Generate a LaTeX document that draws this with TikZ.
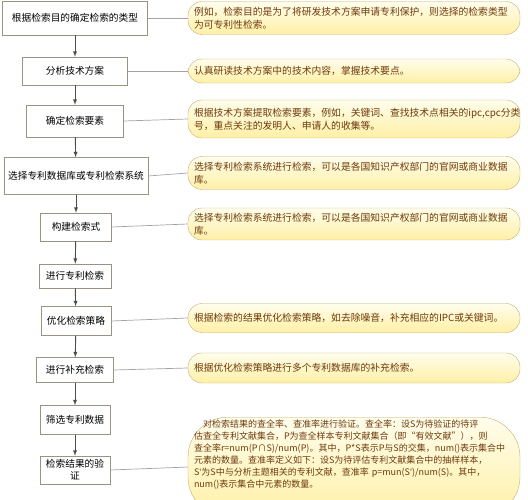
\documentclass[tikz,border=0pt]{standalone}
\usepackage{fontspec}
\setmainfont{Noto Sans CJK SC}
\newfontfamily\latinfont{Noto Sans}
\usepackage{tikz}

\definecolor{boxline}{HTML}{9A9383}
\definecolor{noteline}{HTML}{C2AE6E}
\definecolor{notetop}{HTML}{FFFDEC}
\definecolor{notebottom}{HTML}{FFF0A6}
\definecolor{notetext}{HTML}{6E3A0C}
\definecolor{linkgray}{HTML}{A3A3A3}
\definecolor{arrowgray}{HTML}{4D4D4D}

\tikzset{
  stepbox/.style={draw=boxline, fill=white, align=center, inner sep=1pt,
    font=\fontsize{9.7}{12}\selectfont},
  notebox/.style={draw=noteline, top color=notetop, bottom color=notebottom,
    rounded corners=14pt, text width=320pt, inner xsep=6pt, inner ysep=3pt,
    align=left, text=notetext, font=\fontsize{9.8}{13}\selectfont},
  flow/.style={-latex, draw=arrowgray, line width=0.9pt},
  link/.style={draw=linkgray, line width=0.7pt}
}

\begin{document}
\begin{tikzpicture}[x=1pt, y=-1pt]
    \useasboundingbox (0,0) rectangle (528,500);

    % Steps
    \node[stepbox, minimum width=145pt, minimum height=34pt] (mudi) at (75,18) {根据检索目的确定检索的类型};
    \node[stepbox, minimum width=105pt, minimum height=28pt] (fenxi) at (75,71) {分析技术方案};
    \node[stepbox, minimum width=97pt, minimum height=32pt] (yaosu) at (75,121) {确定检索要素};
    \node[stepbox, minimum width=144pt, minimum height=37pt] (xitong) at (76,176) {选择专利数据库或专利检索系统};
    \node[stepbox, minimum width=71pt, minimum height=28pt] (jianshi) at (76,227) {构建检索式};
    \node[stepbox, minimum width=72pt, minimum height=24pt] (jiansuo) at (75,276) {进行专利检索};
    \node[stepbox, minimum width=70pt, minimum height=29pt] (youhua) at (76,321) {优化检索策略};
    \node[stepbox, minimum width=77pt, minimum height=25pt] (buchong) at (75,370) {进行补充检索};
    \node[stepbox, minimum width=70pt, minimum height=29pt] (shaixuan) at (75,420) {筛选专利数据};
    \node[stepbox, minimum width=70pt, minimum height=28pt] (yanzheng) at (75,470) {检索结果的验\\证};

    % Notes
    \node[notebox, minimum height=33pt] (mudi-tip) at (354,18) {例如，检索目的是为了将研发技术方案申请专利保护，则选择的检索类型\\为可专利性检索。};
    \node[notebox, minimum height=24pt] (fenxi-tip) at (354,71) {认真研读技术方案中的技术内容，掌握技术要点。};
    \node[notebox, minimum height=38pt] (yaosu-tip) at (354,119) {根据技术方案提取检索要素，例如，关键词、查找技术点相关的ipc,cpc分类\\号，重点关注的发明人、申请人的收集等。};
    \node[notebox, minimum height=33pt] (xitong-tip) at (354,173) {选择专利检索系统进行检索，可以是各国知识产权部门的官网或商业数据\\库。};
    \node[notebox, minimum height=32pt] (jianshi-tip) at (354,224) {选择专利检索系统进行检索，可以是各国知识产权部门的官网或商业数据\\库。};
    \node[notebox, minimum height=29pt] (youhua-tip) at (354,318) {根据检索的结果优化检索策略，如去除噪音，补充相应的IPC或关键词。};
    \node[notebox, minimum height=30pt] (buchong-tip) at (354,368) {根据优化检索策略进行多个专利数据库的补充检索。};
    \node[notebox, rounded corners=40pt, anchor=north, font=\fontsize{9}{12}\selectfont] (yanzheng-tip) at (354,417)
      {\hspace*{1em}对检索结果的查全率、查准率进行验证。查全率：设S为待验证的待评\\
       估查全专利文献集合，P为查全样本专利文献集合（即“有效文献”），则\\
       查全率r=num(P∩S)/num(P)。其中，P*S表示P与S的交集，num()表示集合中\\
       元素的数量。查准率定义如下：设S为待评估专利文献集合中的抽样样本，\\
       S{\latinfont\char39}为S中与分析主题相关的专利文献，查准率 p=mun(S{\latinfont\char39})/num(S)。其中，\\
       num()表示集合中元素的数量。\\[14pt]\mbox{}};

    % Flow
    \draw[flow] (mudi) -- (fenxi);
    \draw[flow] (fenxi) -- (yaosu);
    \draw[flow] (yaosu) -- (xitong);
    \draw[flow] (xitong) -- (jianshi);
    \draw[flow] (jianshi) -- (jiansuo);
    \draw[flow] (jiansuo) -- (youhua);
    \draw[flow] (youhua) -- (buchong);
    \draw[flow] (buchong) -- (shaixuan);
    \draw[flow] (shaixuan) -- (yanzheng);

    % Links to notes
    \draw[link] (mudi.east) -- (mudi-tip.west);
    \draw[link] (fenxi.east) -- (fenxi-tip.west);
    \draw[link] (yaosu.east) -- (yaosu-tip.west);
    \draw[link] (xitong.east) -- (xitong-tip.west);
    \draw[link] (jianshi.east) -- (jianshi-tip.west);
    \draw[link] (youhua.east) -- (youhua-tip.west);
    \draw[link] (buchong.east) -- (buchong-tip.west);
    \draw[link] (yanzheng.east) -- (yanzheng-tip.west);
  \end{tikzpicture}
\end{document}
